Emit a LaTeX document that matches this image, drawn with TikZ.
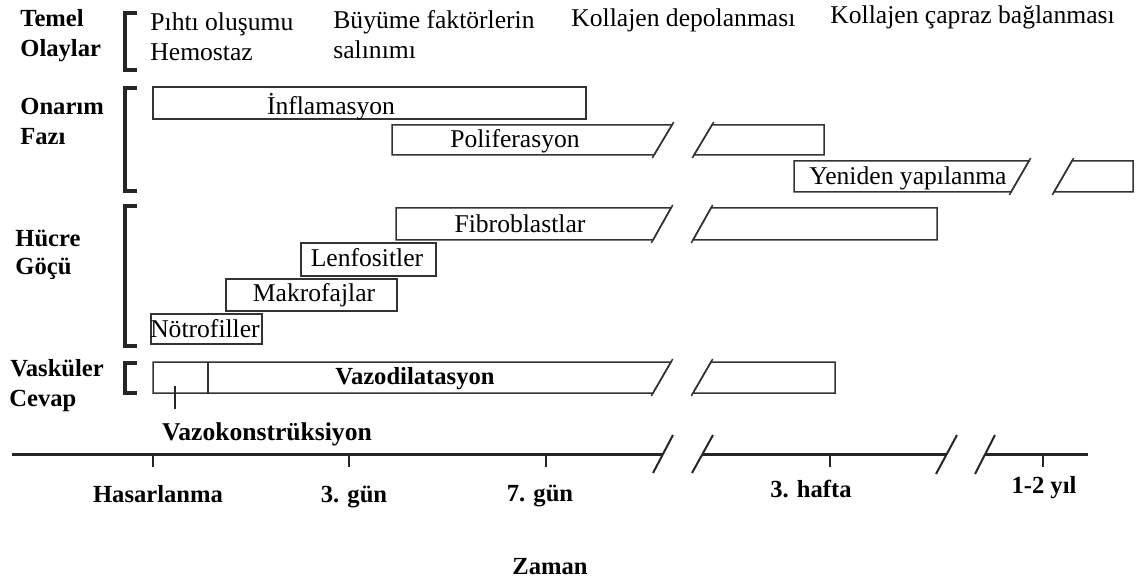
\documentclass[tikz,border=0pt]{standalone}
\usepackage{fontspec}
\setmainfont{Liberation Serif}
\tikzset{
	bar/.style={draw=black!80, line width=0.75pt},
	grp/.style={draw=black!85, line width=1.7pt},
	timeline/.style={draw=black!85, line width=1.5pt},
	tck/.style={draw=black!85, line width=0.75pt},
	txt/.style={font=\fontsize{12.8}{15}\selectfont, inner sep=0pt, anchor=base},
	lbl/.style={font=\fontsize{12.3}{15}\selectfont\bfseries, inner sep=0pt, anchor=base}
}
% box cut on the right: (left,top)(cut bottom x,bottom)
\def\cutright(#1,#2)(#3,#4){\draw[bar] (#1,#2) -- (#3+18,#2) -- (#3,#4) -- (#1,#4) -- cycle;
	\draw[bar] (#3-1.7,#4+3) -- (#3+19.7,#2-3);}
% box cut on the left: (cut bottom x,top)(right,bottom)
\def\cutleft(#1,#2)(#3,#4){\draw[bar] (#1,#4) -- (#1+18,#2) -- (#3,#2) -- (#3,#4) -- cycle;
	\draw[bar] (#1-1.7,#4+3) -- (#1+19.7,#2-3);}

\begin{document}
\begin{tikzpicture}[x=0.5pt, y=-0.5pt]
	%%%%% START %%%%%
	\useasboundingbox (0,0) rectangle (1137,583);

	% group labels
	\node[lbl, anchor=base west] (temel) at (20, 27) {Temel};
	\node[lbl, anchor=base west] (olaylar) at (20, 57) {Olaylar};
	\node[lbl, anchor=base west] (onarim) at (20, 115) {Onarım};
	\node[lbl, anchor=base west] (fazi) at (20, 145) {Fazı};
	\node[lbl, anchor=base west] (hucre) at (15, 247) {Hücre};
	\node[lbl, anchor=base west] (gocu) at (15, 275) {Göçü};
	\node[lbl, anchor=base west] (vaskuler) at (10, 377) {Vasküler};
	\node[lbl, anchor=base west] (cevap) at (9, 406) {Cevap};

	% brackets
	\draw[grp] (137, 13) -- (125, 13) -- (125, 70) -- (137, 70);
	\draw[grp] (137, 88) -- (125, 88) -- (125, 191) -- (137, 191);
	\draw[grp] (137, 206) -- (125, 206) -- (125, 346) -- (137, 346);
	\draw[grp] (137, 363) -- (125, 363) -- (125, 393) -- (137, 393);

	% basic events
	\node[txt, anchor=base west] (pihti) at (150, 31) {Pıhtı oluşumu};
	\node[txt, anchor=base west] (hemostaz) at (150, 61) {Hemostaz};
	\node[txt, anchor=base west] (buyume) at (333, 29) {Büyüme faktörlerin};
	\node[txt, anchor=base west] (salinim) at (333, 59) {salınımı};
	\node[txt, anchor=base west] (depo) at (571, 27) {Kollajen depolanması};
	\node[txt, anchor=base west] (capraz) at (830, 24) {Kollajen çapraz bağlanması};

	% repair phases
	\draw[bar] (153, 87) rectangle (586, 119);
	\node[txt] (inflamasyon) at (331, 115) {İnflamasyon};
	\cutright(392,125)(654,155)
	\cutleft(694,125)(824,155)
	\node[txt] (poliferasyon) at (515, 148) {Poliferasyon};
	\cutright(794,161)(1011,192)
	\cutleft(1054,161)(1133,192)
	\node[txt] (yeniden) at (908, 185) {Yeniden yapılanma};

	% cell migration
	\cutright(396,208)(653,240)
	\cutleft(693,208)(937,240)
	\node[txt] (fibro) at (520, 233) {Fibroblastlar};
	\draw[bar] (301, 243) rectangle (436, 276);
	\node[txt] (lenfo) at (367, 267) {Lenfositler};
	\draw[bar] (226, 279) rectangle (397, 311);
	\node[txt] (makro) at (314, 301) {Makrofajlar};
	\draw[bar] (151, 314) rectangle (262, 344);
	\node[txt] (notro) at (205, 337) {Nötrofiller};

	% vascular response
	\cutright(153,362)(653,393)
	\cutleft(693,362)(835,393)
	\draw[bar] (208, 362) -- (208, 393);
	\node[lbl] (vazodil) at (415, 385) {Vazodilatasyon};
	\draw[tck] (175, 386) -- (175, 409);
	\node[lbl, font=\fontsize{12.8}{15}\selectfont\bfseries] (vazokon) at (267, 440) {Vazokonstrüksiyon};

	% time axis
	\draw[timeline] (12, 454) -- (663, 454);
	\draw[timeline] (703, 454) -- (947, 454);
	\draw[timeline] (985, 454) -- (1088, 454);
	\draw[tck, line width=1pt] (653, 473) -- (673, 435);
	\draw[tck, line width=1pt] (692, 473) -- (713, 435);
	\draw[tck, line width=1pt] (936, 474) -- (957, 435);
	\draw[tck, line width=1pt] (975, 474) -- (995, 435);
	\foreach \t in {153, 349, 546, 830, 1043}
		\draw[tck] (\t, 454) -- (\t, 467);

	\node[lbl] (hasar) at (158, 502) {Hasarlanma};
	\node[lbl] (gun3) at (354, 502) {3. gün};
	\node[lbl] (gun7) at (540, 501) {7. gün};
	\node[lbl] (hafta) at (811, 497) {3. hafta};
	\node[lbl] (yil) at (1044, 493) {1-2 yıl};
	\node[lbl] (zaman) at (550, 574) {Zaman};

	%%%%% END %%%%%
\end{tikzpicture}
\end{document}
